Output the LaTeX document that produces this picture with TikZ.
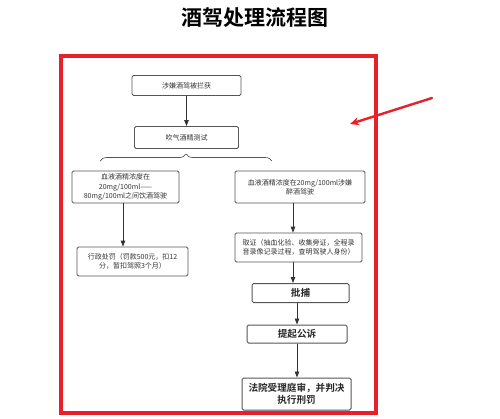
\documentclass[tikz,border=0pt]{standalone}
\usepackage{fontspec}
\setmainfont{Noto Sans CJK SC}
\newfontfamily\cjkb{Noto Sans CJK SC Bold}
\usetikzlibrary{arrows.meta,decorations.pathreplacing}
\definecolor{frame}{HTML}{E62129}
\definecolor{boxline}{HTML}{555555}
\tikzset{
  box/.style={draw=boxline,line width=0.8pt,rounded corners=1.5pt,align=center,
    inner sep=1pt,font=\fontsize{7}{9.3}\selectfont,text=black!80},
  boldbox/.style={box,line width=1pt,font=\cjkb\fontsize{9.6}{12}\selectfont,text=black!85},
  arr/.style={draw=black!80,line width=0.8pt,-{Triangle[length=6pt,width=4.5pt]}}
}
\begin{document}
\begin{tikzpicture}[x=1pt,y=-1pt]
\useasboundingbox (0,0) rectangle (500,418);
\node[font=\cjkb\fontsize{21}{24}\selectfont] (title) at (255,18) {酒驾处理流程图};
\draw[frame,line width=3.6pt] (61,56) rectangle (376,413);
\node[box,minimum width=109pt,minimum height=20pt] (b1) at (186.5,85.5) {涉嫌酒驾被拦获};
\node[box,minimum width=104pt,minimum height=22pt] (b2) at (186.5,137.5) {吹气酒精测试};
\draw[boxline,line width=0.7pt,decorate,decoration={brace,amplitude=7pt}] (100,161) -- (272,161);
\node[box,minimum width=107pt,minimum height=32pt] (lb) at (125.5,187) {血液酒精浓度在\\20mg/100ml——\\80mg/100ml之间饮酒驾驶};
\node[box,minimum width=130pt,minimum height=32pt] (rb) at (300,187) {血液酒精浓度在20mg/100ml涉嫌\\醉酒驾驶};
\node[box,minimum width=111pt,minimum height=29pt] (lb2) at (132.5,261.5) {行政处罚（罚款500元，扣12\\分，暂扣驾照3个月）};
\node[box,minimum width=127pt,minimum height=29pt,inner sep=0pt] (rb2) at (298.5,247.5) {取证（抽血化验、收集旁证，全程录\\音录像记录过程，查明驾驶人身份）};
\node[boldbox,minimum width=97pt,minimum height=19pt] (pb) at (300.5,293) {批捕};
\node[boldbox,minimum width=100pt,minimum height=18pt] (tq) at (297,334) {提起公诉};
\node[boldbox,minimum width=109pt,minimum height=32pt] (ct) at (296.5,394) {法院受理庭审，并判决\\执行刑罚};
\coordinate (xl) at (123,0);
\coordinate (xr) at (293,0);
\coordinate (xr2) at (297,0);
\draw[arr] (b1.south) -- (b2.north);
\draw[arr] (lb.south -| xl) -- (lb2.north -| xl);
\draw[arr] (rb.south -| xr) -- (rb2.north -| xr);
\draw[arr] (rb2.south -| xr) -- (pb.north -| xr);
\draw[arr] (pb.south -| xr2) -- (tq.north -| xr2);
\draw[arr] (tq.south -| xr2) -- (ct.north -| xr2);
\coordinate (rs) at (432,98);
\coordinate (re) at (350,124);
\draw[frame,line width=2.4pt,line cap=round,-{Stealth[length=9pt,width=8pt]}] (rs) -- (re);
\end{tikzpicture}
\end{document}
